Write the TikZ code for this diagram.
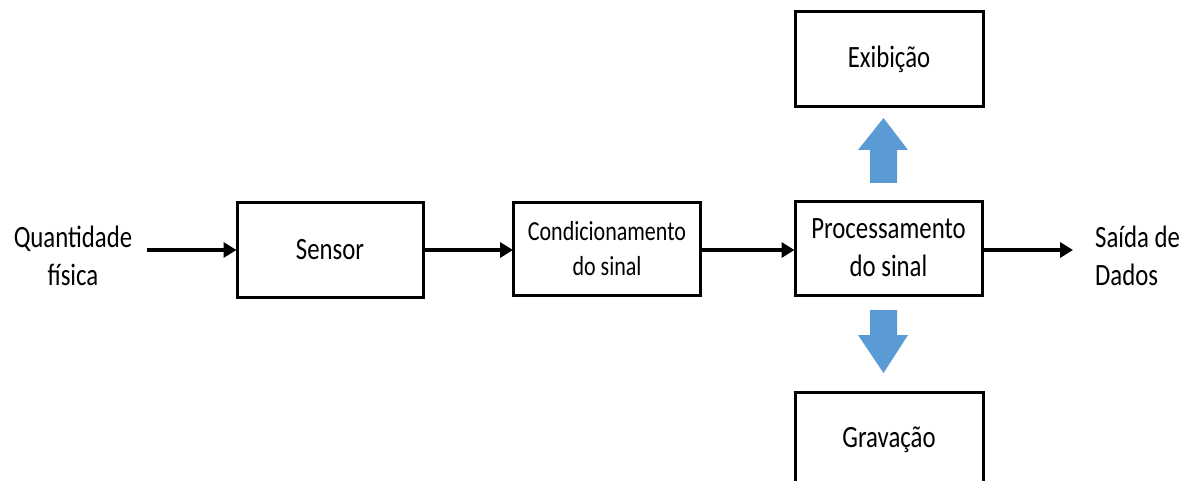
\documentclass[tikz,border=0pt]{standalone}
\usepackage{fontspec}
\setmainfont{Carlito}[FakeStretch=0.8]
\usetikzlibrary{arrows.meta,calc}
\definecolor{arrowblue}{HTML}{5B9BD5}
\begin{document}
\begin{tikzpicture}[x=1pt,y=-1pt,
  blockbox/.style={draw=black,line width=3pt,fill=white,inner sep=0pt,align=center,
     font=\fontsize{31}{38}\selectfont},
  lbl/.style={align=center,font=\fontsize{31}{38}\selectfont},
  conn/.style={line width=3.8pt,-{Triangle[length=13pt,width=15pt]},shorten >=-1pt},
  bigarrow/.style={fill=arrowblue}]
\useasboundingbox (0,0) rectangle (1193,481);
\clip (0,0) rectangle (1193,481);
% boxes
\node[blockbox,minimum width=186pt,minimum height=95pt] (sensor) at (330,249.5) {Sensor};
\node[blockbox,minimum width=187pt,minimum height=93pt,font=\fontsize{27.5}{35}\selectfont] (cond) at (607,248.5) {Condicionamento\\do sinal};
\node[blockbox,minimum width=187pt,minimum height=94pt] (proc) at (888.5,248) {Processamento\\do sinal};
\node[blockbox,minimum width=188pt,minimum height=95pt] (exib) at (889,59.5) {Exibição};
\node[blockbox,minimum width=188pt,minimum height=95pt] (grav) at (889,439.5) {Gravação};
% texts
\node[lbl,inner sep=0pt] (qin) at (73,256) {Quantidade\\física};
\coordinate (qstart) at (147,250);
\node[lbl,inner sep=0pt,align=left,anchor=west] (out) at (1095,256) {Saída de\\Dados};
\coordinate (qend) at (1072,250);
% connectors
\draw[conn] (qstart) -- (qstart -| sensor.west);
\draw[conn] (sensor.east |- 0,250) -- (cond.west |- 0,250);
\draw[conn] (cond.east |- 0,250) -- (proc.west |- 0,250);
\draw[conn] (proc.east |- 0,250) -- (qend);
% blue block arrows
\fill[bigarrow] (870,183) -- (897,183) -- (897,150) -- (908,150) -- (883.5,118) -- (858,150) -- (870,150) -- cycle;
\fill[bigarrow] (870,310) -- (897,310) -- (897,335) -- (908,335) -- (883.5,373) -- (858,335) -- (870,335) -- cycle;
\end{tikzpicture}
\end{document}
